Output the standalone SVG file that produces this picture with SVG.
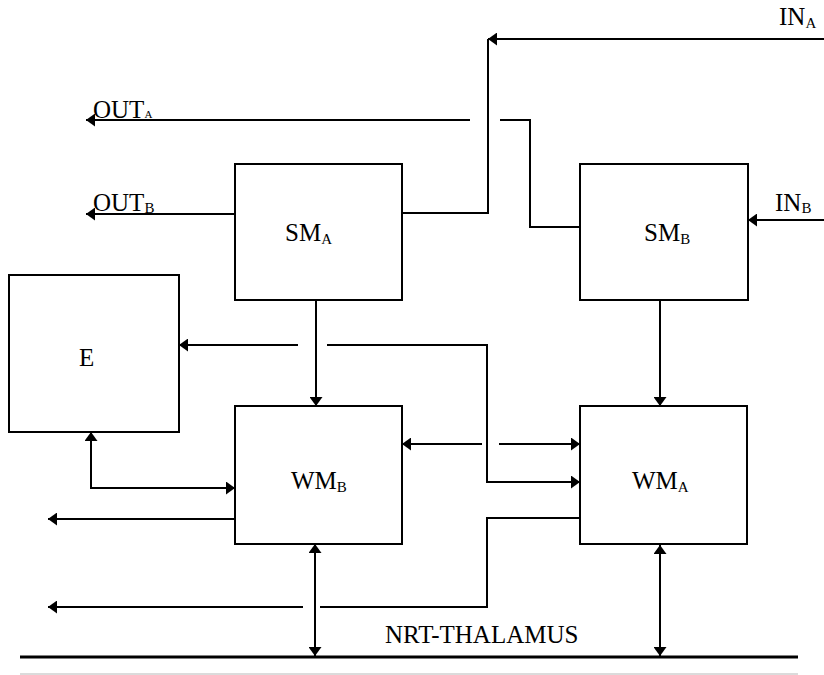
<svg xmlns="http://www.w3.org/2000/svg" width="824" height="675" viewBox="0 0 824 675">
<style>
  .box { fill: #fff; stroke: #000; stroke-width: 2; }
  .ln { fill: none; stroke: #000; stroke-width: 2; }
  .arr { marker-end: url(#ah); }
  .bi { marker-start: url(#ah); marker-end: url(#ah); }
  text { font-family: 'Liberation Serif', 'Times New Roman', serif; font-size: 25px; fill: #000; }
  .sub { font-size: 15px; }
  .subs { font-size: 11px; }
</style>
<defs>
  <marker id="ah" markerUnits="userSpaceOnUse" markerWidth="10" markerHeight="13" refX="9" refY="6.5" orient="auto-start-reverse">
    <path d="M0,0 L9,6.5 L0,13 z" fill="#000"/>
  </marker>
</defs>
<rect width="824" height="675" fill="#fff"/>

<g id="connectors">
  <line class="ln arr" x1="824" y1="39" x2="488" y2="39"/>
  <polyline class="ln" points="488,39 488,213 402,213"/>
  <polyline class="ln" points="580,227 530,227 530,120 500,120"/>
  <line class="ln arr" x1="470" y1="120" x2="86" y2="120"/>
  <line class="ln arr" x1="235" y1="214" x2="86" y2="214"/>
  <line class="ln arr" x1="824" y1="220" x2="748" y2="220"/>
  <line class="ln arr" x1="316" y1="300" x2="316" y2="406"/>
  <line class="ln arr" x1="660" y1="300" x2="660" y2="406"/>
  <line class="ln arr" x1="298" y1="345" x2="179" y2="345"/>
  <polyline class="ln arr" points="327,345 487,345 487,482 580,482"/>
  <line class="ln arr" x1="482" y1="444" x2="402" y2="444"/>
  <line class="ln arr" x1="499" y1="444" x2="580" y2="444"/>
  <polyline class="ln bi" points="91,432 91,488 235,488"/>
  <line class="ln arr" x1="235" y1="519" x2="48" y2="519"/>
  <polyline class="ln" points="580,518 487,518 487,607 320,607"/>
  <line class="ln arr" x1="303" y1="607" x2="48" y2="607"/>
  <line class="ln bi" x1="315" y1="544" x2="315" y2="656"/>
  <line class="ln bi" x1="660" y1="545" x2="660" y2="656"/>
</g>

<g id="SM_A">
  <rect class="box" x="235" y="164" width="167" height="136"/>
  <text x="285" y="241">SM<tspan class="sub" dy="3">A</tspan></text>
</g>
<g id="SM_B">
  <rect class="box" x="580" y="164" width="168" height="136"/>
  <text x="644" y="241">SM<tspan class="sub" dy="3">B</tspan></text>
</g>
<g id="E">
  <rect class="box" x="9" y="275" width="170" height="157"/>
  <text x="79" y="366">E</text>
</g>
<g id="WM_B">
  <rect class="box" x="235" y="406" width="167" height="138"/>
  <text x="291" y="489">WM<tspan class="sub" dy="3">B</tspan></text>
</g>
<g id="WM_A">
  <rect class="box" x="580" y="406" width="167" height="138"/>
  <text x="632" y="489">WM<tspan class="sub" dy="3">A</tspan></text>
</g>
<g id="NRT-THALAMUS">
  <line x1="20" y1="657" x2="798" y2="657" stroke="#000" stroke-width="3"/>
  <line x1="20" y1="674" x2="798" y2="674" stroke="#cfcfcf" stroke-width="1.5"/>
  <text x="385" y="643">NRT-THALAMUS</text>
</g>
<g id="labels">
  <text x="779" y="25">IN<tspan class="sub" dy="3">A</tspan></text>
  <text x="775" y="211">IN<tspan class="sub" dy="2">B</tspan></text>
  <text x="93" y="118">OUT<tspan class="subs">A</tspan></text>
  <text x="93" y="211">OUT<tspan class="sub" dy="2">B</tspan></text>
</g>
</svg>
